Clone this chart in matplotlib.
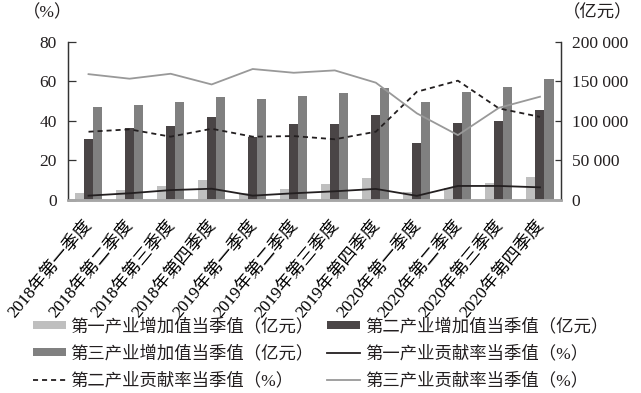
import matplotlib
matplotlib.use("Agg")
import matplotlib.pyplot as plt
import matplotlib.transforms as mtransforms
import numpy as np

plt.rcParams["font.family"] = ["Liberation Serif", "Noto Sans CJK SC"]
plt.rcParams["text.color"] = "#231f20"

quarters = ["2018年第一季度", "2018年第二季度", "2018年第三季度", "2018年第四季度",
            "2019年第一季度", "2019年第二季度", "2019年第三季度", "2019年第四季度",
            "2020年第一季度", "2020年第二季度", "2020年第三季度", "2020年第四季度"]

# 增加值（亿元）
primary_val = [8500, 12600, 18100, 24900, 8800, 13900, 19800, 27400, 9700, 15600, 21500, 29500]
secondary_val = [76700, 91000, 93100, 104500, 80000, 95600, 96400, 107800, 72400, 97700, 100200, 113700]
tertiary_val = [117100, 119600, 123800, 130100, 128000, 131400, 135200, 141900, 123400, 136000, 143100, 152800]

# 贡献率（%）
primary_rate = [2.2, 3.4, 5.0, 5.7, 2.2, 3.4, 4.4, 5.6, 2.1, 7.1, 7.1, 6.4]
secondary_rate = [34.5, 35.7, 32.0, 36.0, 32.0, 32.3, 30.7, 34.5, 54.7, 60.3, 46.3, 42.0]
tertiary_rate = [63.6, 61.3, 63.8, 58.4, 66.2, 64.3, 65.5, 59.3, 43.8, 32.8, 46.6, 52.2]

x = np.arange(len(quarters))
w = 0.22

fig = plt.figure(figsize=(6.41, 3.93), dpi=100)
ax = fig.add_axes([68 / 641, 1 - 200 / 393, (560.5 - 68) / 641, (200 - 41.7) / 393])
ax2 = ax.twinx()

b1 = ax2.bar(x - w, primary_val, w, color="#bfbfbf", label="第一产业增加值当季值（亿元）")
b2 = ax2.bar(x, secondary_val, w, color="#4a4546", label="第二产业增加值当季值（亿元）")
b3 = ax2.bar(x + w, tertiary_val, w, color="#808080", label="第三产业增加值当季值（亿元）")

l1, = ax.plot(x, primary_rate, color="#231f20", lw=1.3, label="第一产业贡献率当季值（%）")
l2, = ax.plot(x, secondary_rate, color="#231f20", lw=1.3, linestyle=(0, (2.8, 2.2)),
              label="第二产业贡献率当季值（%）")
l3, = ax.plot(x, tertiary_rate, color="#999999", lw=1.3, label="第三产业贡献率当季值（%）")

ax.set_zorder(ax2.get_zorder() + 1)
ax.patch.set_visible(False)

ax.set_xlim(-0.5, len(quarters) - 0.5)
ax.set_ylim(0, 80)
ax.set_yticks([0, 20, 40, 60, 80])
ax2.set_ylim(0, 200000)
ax2.set_yticks([0, 50000, 100000, 150000, 200000])
ax2.set_yticklabels([f"{v:,}".replace(",", " ") for v in [0, 50000, 100000, 150000, 200000]])

for a in (ax, ax2):
    a.spines["top"].set_visible(False)
    a.spines["left"].set_color("#333333")
    a.spines["right"].set_color("#333333")
    a.spines["bottom"].set_color("#a6a6a6")
    a.spines["bottom"].set_linewidth(1.8)
    a.spines["left"].set_linewidth(0.9)
    a.spines["right"].set_linewidth(0.9)

ax.tick_params(axis="y", direction="in", length=5.5, width=0.9, pad=8, labelsize=12.5,
               color="#333333", labelcolor="#231f20")
ax2.tick_params(axis="y", direction="in", length=4.5, width=0.9, pad=8, labelsize=12.5,
                color="#333333", labelcolor="#231f20")
ax.set_xticks(x)
ax.set_xticklabels(quarters, rotation=50, ha="right", va="center", rotation_mode="anchor",
                   fontsize=12.5)
ax.tick_params(axis="x", length=0, pad=16)
offset = mtransforms.ScaledTranslation(1.5 / 100, 0, fig.dpi_scale_trans)
for lab in ax.get_xticklabels():
    lab.set_transform(lab.get_transform() + offset)

fig.text(48 / 641, 1 - 13 / 393, "（%）", ha="center", va="center", fontsize=12.5)
fig.text(598 / 641, 1 - 13 / 393, "（亿元）", ha="center", va="center", fontsize=12.5)

handles = [b1, b3, l2, b2, l1, l3]
fig.legend(handles, [h.get_label() for h in handles], ncol=2, frameon=False,
           loc="upper left", bbox_to_anchor=(33 / 641, 1 - 318 / 393),
           borderpad=0, borderaxespad=0, fontsize=12.5, handlelength=1.9,
           handleheight=0.35, handletextpad=0.25, columnspacing=0.8, labelspacing=0.6)

fig.savefig("out.png", dpi=100)
